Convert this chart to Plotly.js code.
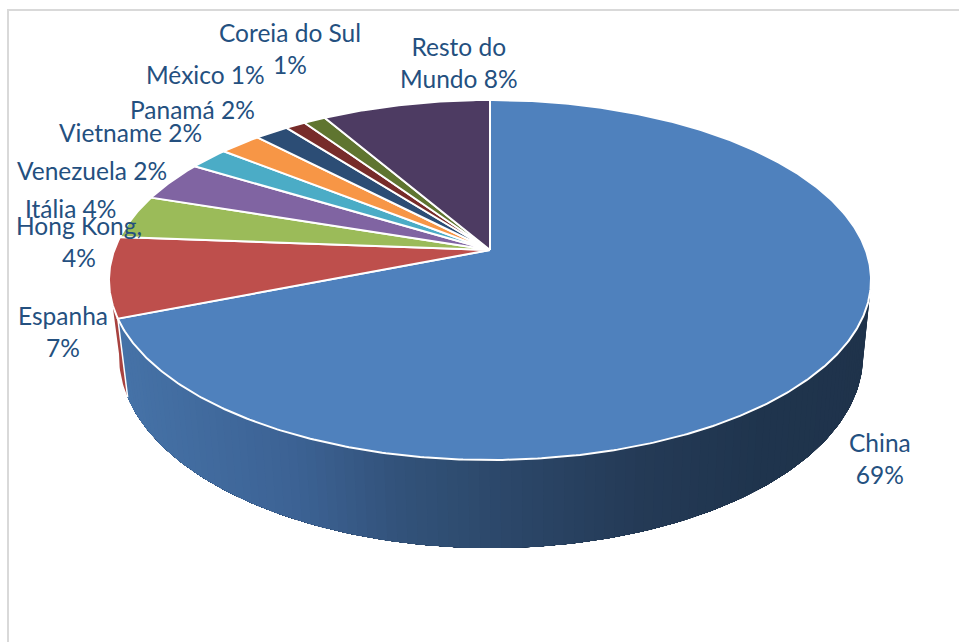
<!DOCTYPE html>
<html>
<head>
<meta charset="utf-8">
<script src="https://cdn.plot.ly/plotly-3.0.1.min.js"></script>
<style>html,body{margin:0;padding:0;background:#fff;overflow:hidden}#chart{width:959px;height:642px}</style>
</head>
<body>
<div id="chart"></div>
<script>
// Data, clockwise from twelve o'clock
const categories = ["China","Espanha","Hong Kong,","Itália","Venezuela","Vietname","Panamá","México","Coreia do Sul","Resto do Mundo"];
const shares = [69.0, 7.2, 3.9, 3.6, 2.0, 2.1, 1.7, 1.0, 1.1, 8.4];
const labels = ["China<br>69%","Espanha<br>7%","Hong Kong,<br>4%","Itália 4%","Venezuela 2%","Vietname 2%","Panamá 2%","México 1%","Coreia do Sul<br>1%","Resto do<br>Mundo 8%"];
const sliceColors = ["#4F81BD","#BE4F4C","#9BBB59","#8064A2","#4BACC6","#F79646","#2C4D75","#772C2A","#5F7530","#4D3B62"];

// Layout: label centres in page pixels
const labelX = [880, 63, 79, 70, 92, 130, 192, 205, 290, 459];
const labelY = [458, 331, 241, 208, 170, 132, 109, 74, 48, 62];

// Perspective of the pie: a top disc and a lower rim
const topDisc = {cx:490, cy:250, a:375.7, b:175, k:1/6};
const lowRim  = {cx:491, cy:324.1, a:366.8, b:186.6, k:1/6};
const project = (p, deg) => {
  const t = deg*Math.PI/180, X = Math.sin(t), Y = Math.cos(t), w = 1 + p.k*Y;
  return [p.cx + p.a*X/w, p.cy - p.b*Y/w];
};
const total = shares.reduce((s,v)=>s+v,0);
const edges = [0];
shares.forEach(v => edges.push(edges[edges.length-1] + v/total*360));

const wallStops = [[120,[70,115,168]],[300,[60,98,148]],[400,[50,82,122]],[500,[44,72,106]],[640,[36,58,86]],[760,[31,52,77]],[870,[31,51,75]]];
const wallColor = x => {
  for (let i=1;i<wallStops.length;i++) {
    if (x <= wallStops[i][0]) {
      const [x0,c0]=wallStops[i-1],[x1,c1]=wallStops[i];
      const f=Math.max(0,(x-x0)/(x1-x0));
      return `rgb(${c0.map((c,j)=>Math.round(c+(c1[j]-c)*f)).join(",")})`;
    }
  }
  return `rgb(${wallStops[wallStops.length-1][1].join(",")})`;
};

const traces = [];
// A wall band between two angles: top rim forward, lower rim back
const wallBand = (d0, d1, color) => {
  const xs=[], ys=[], n=Math.max(2,Math.ceil((d1-d0)));
  for (let j=0;j<=n;j++){ const p=project(topDisc,d0+(d1-d0)*j/n); xs.push(p[0]); ys.push(p[1]); }
  for (let j=n;j>=0;j--){ const p=project(lowRim,d0+(d1-d0)*j/n); xs.push(p[0]); ys.push(p[1]); }
  xs.push(xs[0]); ys.push(ys[0]);
  traces.push({type:"scatter",mode:"lines",x:xs,y:ys,fill:"toself",fillcolor:color,
    line:{width:0,color:color},hoverinfo:"skip",showlegend:false});
};

// Side wall: the sliver of Espanha's wall, then China's front face painted
// from the far end so that each band overlaps the next and no seams show
const chinaEnd = edges[1];
const wallFrom = 98, wallSteps = 110;
wallBand(chinaEnd, 261, "#A8423F");
for (let i = 0; i < wallSteps; i++) {
  const d0 = wallFrom + (chinaEnd-wallFrom)*i/wallSteps;
  const d1 = wallFrom + (chinaEnd-wallFrom)*(i+1)/wallSteps;
  const mid = (project(lowRim,d0)[0] + project(lowRim,d1)[0])/2;
  wallBand(d0, chinaEnd, wallColor(mid));
}
// White cut at the end of China's wall
{
  const a=project(topDisc,chinaEnd), b=project(lowRim,chinaEnd);
  traces.push({type:"scatter",mode:"lines",x:[a[0],b[0]],y:[a[1],b[1]],line:{color:"#fff",width:1.5},hoverinfo:"skip",showlegend:false});
}

// Top face
shares.forEach((v,i) => {
  const xs=[topDisc.cx], ys=[topDisc.cy];
  const n=Math.max(6,Math.ceil((edges[i+1]-edges[i])*2));
  for (let j=0;j<=n;j++){
    const p=project(topDisc,edges[i]+(edges[i+1]-edges[i])*j/n);
    xs.push(p[0]); ys.push(p[1]);
  }
  xs.push(topDisc.cx); ys.push(topDisc.cy);
  traces.push({type:"scatter",mode:"lines",name:categories[i],x:xs,y:ys,fill:"toself",fillcolor:sliceColors[i],
    line:{color:"#fff",width:2},hoverinfo:"skip",showlegend:false});
});

const annotations = labels.map((t,i)=>({
  x:labelX[i], y:labelY[i], xref:"x", yref:"y", text:t, showarrow:false,
  xanchor:"center", yanchor:"middle", align:"center",
  font:{family:"Lato, Carlito, 'Open Sans', sans-serif", size:24.5, color:"#24507F"}
}));

const frameLine = {color:"#D9D9D9", width:2};
const layout = {
  width:959, height:642, margin:{l:0,r:0,t:0,b:0}, autosize:false,
  paper_bgcolor:"#fff", plot_bgcolor:"#fff", showlegend:false, hovermode:false,
  xaxis:{range:[0,959],visible:false,fixedrange:true},
  yaxis:{range:[642,0],visible:false,fixedrange:true},
  annotations,
  shapes:[
    {type:"line",xref:"x",yref:"y",x0:8,x1:8,y0:10,y1:642,line:frameLine},
    {type:"line",xref:"x",yref:"y",x0:7,x1:959,y0:10,y1:10,line:frameLine}
  ]
};
Plotly.newPlot("chart",traces,layout,{displayModeBar:false,staticPlot:true});
</script>
</body>
</html>
